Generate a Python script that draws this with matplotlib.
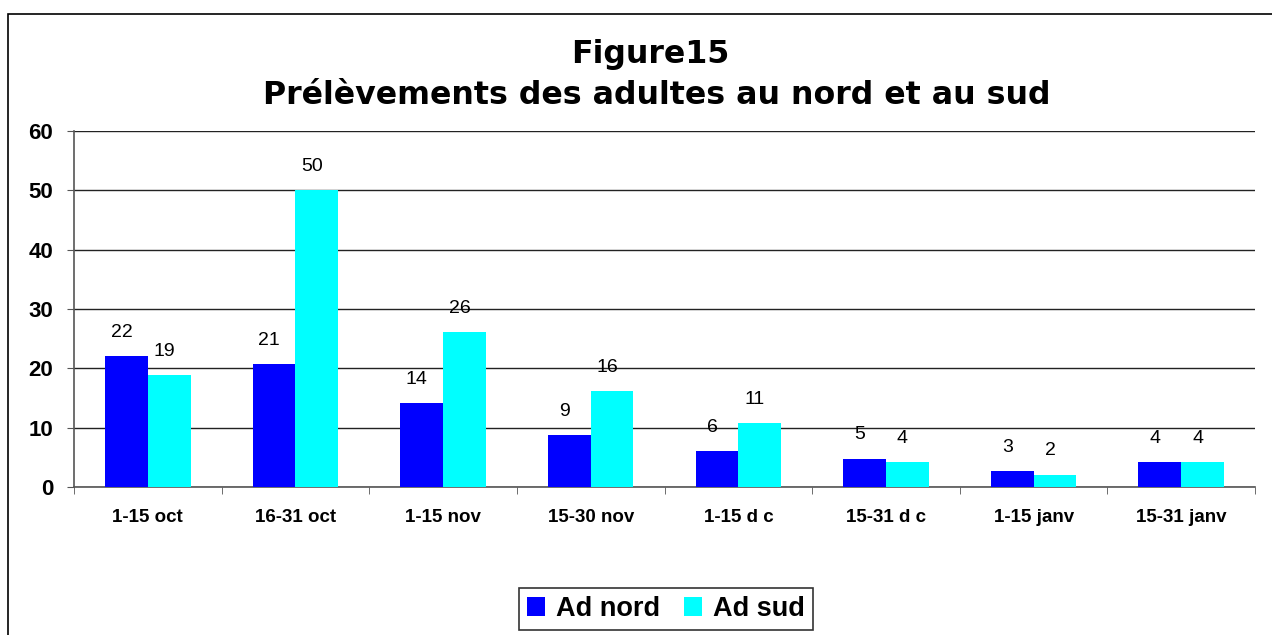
import numpy as np
import matplotlib
matplotlib.use("Agg")
from matplotlib import pyplot as plt
from matplotlib.patches import Rectangle

categories = ["1-15 oct", "16-31 oct", "1-15 nov", "15-30 nov",
              "1-15 d c", "15-31 d c", "1-15 janv", "15-31 janv"]
ad_nord = [22.1, 20.7, 14.1, 8.8, 6.1, 4.8, 2.7, 4.2]
ad_sud = [18.8, 50.0, 26.1, 16.2, 10.8, 4.2, 2.1, 4.2]
yticks = [0, 10, 20, 30, 40, 50, 60]

plt.rcParams['font.family'] = ['Liberation Sans', 'DejaVu Sans']

fig = plt.figure(figsize=(12.72, 6.35), dpi=100)
ax = fig.add_axes([74/1272, 1 - 487/635, (1255 - 74)/1272, (487 - 131)/635])

x = np.arange(len(categories))
w = 0.29
b1 = ax.bar(x - w/2, ad_nord, w, color='#0000ff', label='Ad nord', zorder=3)
b2 = ax.bar(x + w/2, ad_sud, w, color='#00ffff', label='Ad sud', zorder=3)

for bars, vals in [(b1, ad_nord), (b2, ad_sud)]:
    for r, v in zip(bars, vals):
        ax.annotate(str(int(round(v))), (r.get_x() + r.get_width()/2, r.get_height()),
                    xytext=(-3.5, 11), textcoords='offset points', ha='center', va='bottom',
                    fontsize=14)

ax.set_xlim(-0.5, len(categories) - 0.5)
ax.set_ylim(0, 60)
ax.set_yticks(yticks)
ax.set_yticklabels([str(t) for t in yticks], fontsize=16, fontweight='bold')
ax.set_xticks(x)
ax.set_xticklabels(categories, fontsize=13.5, fontweight='bold')
ax.set_xticks(np.arange(len(categories) + 1) - 0.5, minor=True)
ax.tick_params(axis='x', which='major', length=0, pad=16)
ax.tick_params(axis='x', which='minor', length=5, color='#555555', direction='out')
ax.tick_params(axis='y', length=5, color='#555555', pad=10)

ax.grid(axis='y', color='#222222', linewidth=1, zorder=0)
for s in ['top', 'right']:
    ax.spines[s].set_visible(False)
for s in ['left', 'bottom']:
    ax.spines[s].set_color('#555555')
    ax.spines[s].set_linewidth(1.2)

fig.text(0.511, 1 - 55/635, "Figure15", ha='center', va='center',
         fontsize=22.8, fontweight='bold', family='DejaVu Sans')
fig.text(0.516, 1 - 95/635, "Prélèvements des adultes au nord et au sud", ha='center',
         va='center', fontsize=22.8, fontweight='bold', family='DejaVu Sans')

leg = fig.legend(handles=[b1, b2], loc='center', bbox_to_anchor=(666/1272, 1 - 609/635),
                 ncol=2, frameon=True, fancybox=False, edgecolor='black',
                 prop={'size': 19.5, 'weight': 'bold'}, handlelength=0.65, handleheight=0.65,
                 handletextpad=0.4, columnspacing=0.9, borderpad=0.3, borderaxespad=0)
leg.get_frame().set_linewidth(1.2)

fig.patches.append(Rectangle((8/1272, -0.1), 1.2, 1 - 14/635 + 0.1, transform=fig.transFigure,
                             fill=False, edgecolor='black', linewidth=1.2))

fig.savefig("out.png", dpi=100)
